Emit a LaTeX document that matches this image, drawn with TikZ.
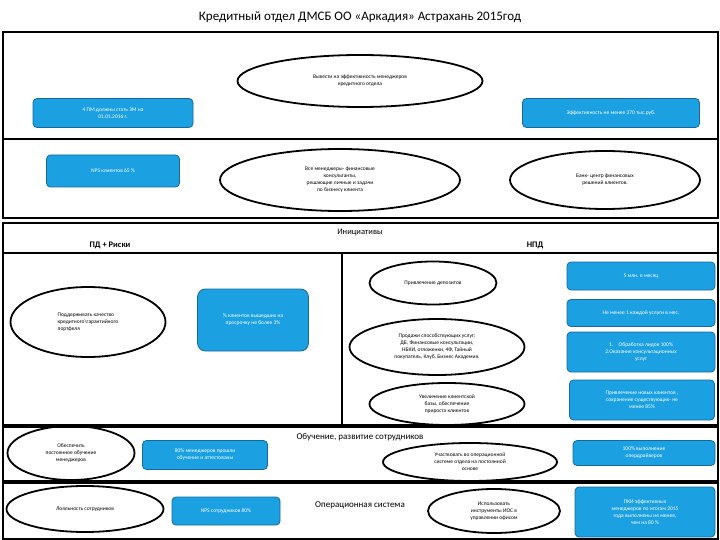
\documentclass[tikz,border=0pt]{standalone}
\usepackage{fontspec}
\setmainfont{Carlito}
\usetikzlibrary{shapes.geometric}
\definecolor{boxfill}{HTML}{1BA1E2}
\definecolor{boxline}{HTML}{17699C}
\begin{document}
\begin{tikzpicture}[x=1pt,y=-1pt,
 ell/.style={draw,line width=1.8pt,ellipse,inner sep=0pt,align=center,font=\fontsize{5.5}{7}\selectfont},
 bx/.style={draw=boxline,fill=boxfill,rounded corners=4pt,text=white,align=center,inner sep=1pt,font=\fontsize{5.5}{7}\selectfont,line width=0.8pt},
 fr/.style={draw,line width=1.5pt}]
\useasboundingbox (0,0) rectangle (720,540);
\node (title) at (360,17) {\fontsize{13}{15}\selectfont Кредитный отдел ДМСБ ОО «Аркадия» Астрахань 2015год};
\draw[fr] (3,32) rectangle (718,218);
\draw[fr] (3,139) -- (718,139);
\draw[fr] (3,223) rectangle (718,425);
\draw[fr] (3,253) -- (718,253);
\draw[fr] (342,253) -- (342,425);
\draw[fr] (3,427) rectangle (718,481);
\draw[fr] (3,483) rectangle (718,539);
\node[ell,minimum width=245,minimum height=52] (e1) at (360,81) {Вывести на эффективность менеджеров\\кредитного отдела};
\node[bx,minimum width=160,minimum height=29] (b1) at (113,113) {4 ПМ должны стать ЗМ на\\01.01.2016 г.};
\node[bx,minimum width=177,minimum height=29] (b2) at (611,113) {Эффективность не менее 270 тыс.руб.};
\node[bx,minimum width=133,minimum height=32] (b3) at (113,171) {NPS клиентов 65 \%};
\node[ell,minimum width=240,minimum height=62] (e2) at (340,180) {Все менеджеры- финансовые\\консультанты,\\решающие личные и задачи\\по бизнесу клиента};
\node[ell,minimum width=190,minimum height=58] (e3) at (605,180) {Банк- центр финансовых\\решений клиентов.};
\node (ini) at (360,232) {\fontsize{8.5}{10}\selectfont Инициативы};
\node (pd) at (110,245) {\fontsize{8.5}{10}\selectfont\bfseries ПД + Риски};
\node (npd) at (535,245) {\fontsize{8.5}{10}\selectfont\bfseries НПД};
\node[ell,minimum width=127,minimum height=43] (e4) at (433,283) {Привлечение депозитов};
\node[bx,minimum width=148,minimum height=28] (b4) at (641,276) {5 млн. в месяц};
\node[ell,minimum width=155,minimum height=70,align=left] (e5) at (88,322) {Поддерживать качество\\кредитного\textbackslash гарантийного\\портфеля};
\node[bx,minimum width=111,minimum height=62,rounded corners=8pt] (b5) at (253,320) {\% клиентов вышедших на\\просрочку не более 3\%};
\node[bx,minimum width=148,minimum height=27] (b6) at (641,313) {Не менее 1 каждой услуги в мес.};
\node[ell,minimum width=175,minimum height=56] (e6) at (437,347) {Продажи способствующих услуг:\\ДБ, Финансовые консультации,\\НБКИ, отложенки, 4Ф, Тайный\\покупатель, Клуб, Бизнес Академия.};
\node[bx,minimum width=148,minimum height=40] (b7) at (641,352) {1.\quad Обработка лидов 100\%\\2.Оказание консультационных\\услуг};
\node[ell,minimum width=155,minimum height=42] (e7) at (447,404) {Увеличение клиентской\\базы, обеспечение\\прироста клиентов};
\node[bx,minimum width=145,minimum height=40] (b8) at (642,400) {Привлечение новых клиентов ,\\сохранение существующих- не\\менее 85\%};
\node (ob) at (360,437) {\fontsize{9}{11}\selectfont Обучение, развитие сотрудников};
\node[ell,minimum width=127,minimum height=54] (e8) at (71,453) {Обеспечить\\постоянное обучение\\менеджеров};
\node[bx,minimum width=125,minimum height=29] (b9) at (205,455) {80\% менеджеров прошли\\обучение и аттестованы};
\node[ell,minimum width=174,minimum height=38] (e9) at (470,462) {Участвовать во операционной\\системе отдела на постоянной\\основе};
\node[bx,minimum width=142,minimum height=25] (b10) at (644,453) {100\% выполнение\\опердрайверов};
\node[ell,minimum width=157,minimum height=46] (e10) at (85,509) {Лояльность сотрудников};
\node[bx,minimum width=108,minimum height=28] (b11) at (226,511) {NPS сотрудников 80\%};
\node (os) at (360,505) {\fontsize{9}{11}\selectfont Операционная система};
\node[ell,minimum width=132,minimum height=44] (e11) at (494,511) {Использовать\\инструменты ИОС в\\управлении офисом};
\node[bx,minimum width=140,minimum height=50] (b12) at (645,512) {ПКИ эффективных\\менеджеров по итогам 2015\\года выполнены не менее,\\чем на 80 \%};
\end{tikzpicture}
\end{document}
